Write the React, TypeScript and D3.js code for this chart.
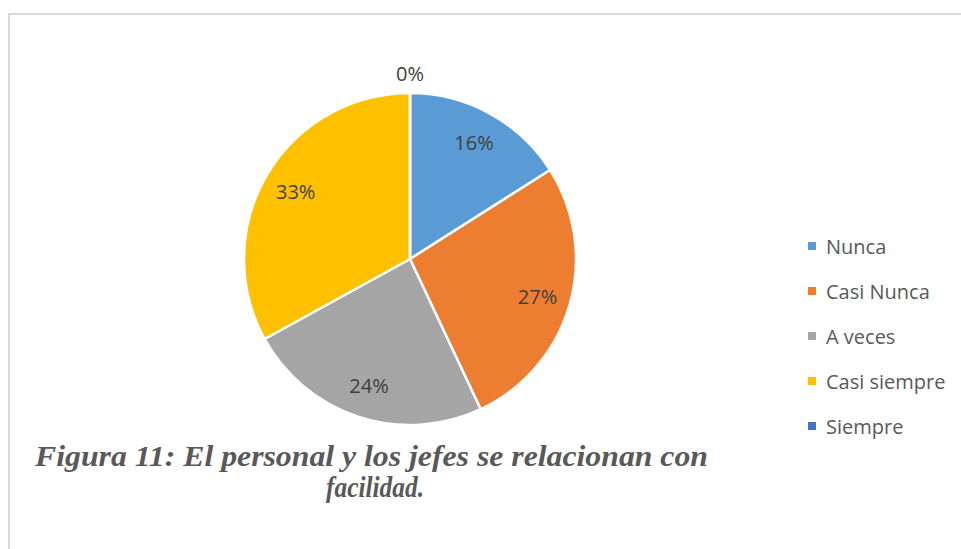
import React from "react";
import * as d3 from "d3";

const categories = ["Nunca", "Casi Nunca", "A veces", "Casi siempre", "Siempre"];
const values = [16, 27, 24, 33, 0];
const colors = ["#5B9BD5", "#ED7D31", "#A5A5A5", "#FFC000", "#4472C4"];
const captionLines = ["Figura 11: El personal y los jefes se relacionan con", "facilidad."];

const W = 961;
const H = 549;
const cx = 410;
const cy = 259;
const R = 166;

export default function App() {
  const pie = d3.pie<number>().sort(null).value((d) => d).startAngle(0).endAngle(2 * Math.PI);
  const arcs = pie(values);
  const arcGen = d3.arc<d3.PieArcDatum<number>>().innerRadius(0).outerRadius(R);
  const labelArc = d3.arc<d3.PieArcDatum<number>>().innerRadius(R * 0.8).outerRadius(R * 0.8);
  const outArc = d3.arc<d3.PieArcDatum<number>>().innerRadius(186).outerRadius(186);
  const total = d3.sum(values);
  const legendY = d3.scalePoint<string>().domain(categories).range([246, 426]);

  return (
    <svg
      width={W}
      height={H}
      style={{ position: "absolute", left: 0, top: 0, background: "#fff" }}
      fontFamily="'Open Sans', sans-serif"
    >
      <rect x={9} y={14} width={W + 20} height={H + 20} fill="#fff" stroke="#D9D9D9" strokeWidth={2} />
      <g transform={`translate(${cx},${cy})`}>
        {arcs.map((a, i) => (
          <path key={i} d={arcGen(a) || ""} fill={colors[i]} stroke="#fff" strokeWidth={2.5} strokeLinejoin="round" />
        ))}
        {arcs.map((a, i) => {
          const [x, y] = a.value === 0 ? outArc.centroid(a) : labelArc.centroid(a);
          return (
            <text
              key={"l" + i}
              x={x}
              y={y}
              textAnchor="middle"
              dominantBaseline="central"
              fontSize={20}
              fill="#404040"
            >
              {d3.format(".0%")(a.value / total)}
            </text>
          );
        })}
      </g>
      {categories.map((c, i) => (
        <g key={c} transform={`translate(808,${legendY(c)})`}>
          <rect x={0} y={-4} width={8} height={8} fill={colors[i]} />
          <text x={18} y={0} dominantBaseline="central" fontSize={20} fill="#595959">
            {c}
          </text>
        </g>
      ))}
      <g fontFamily="'Liberation Serif', serif" fontStyle="italic" fontWeight="bold" fill="#595959" fontSize={30}>
        <text x={35} y={466} textLength={673} lengthAdjust="spacingAndGlyphs">
          {captionLines[0]}
        </text>
        <text x={375} y={497} textAnchor="middle" textLength={98} lengthAdjust="spacingAndGlyphs">
          {captionLines[1]}
        </text>
      </g>
    </svg>
  );
}
